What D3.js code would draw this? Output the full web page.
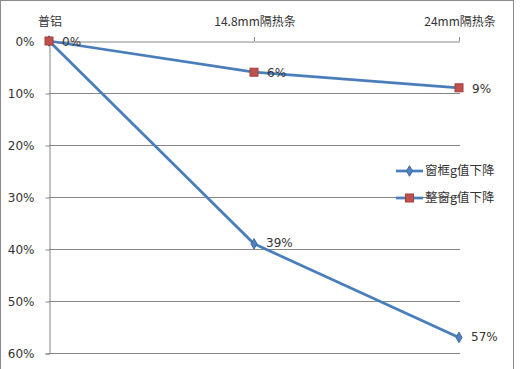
<!DOCTYPE html>
<html>
<head>
<meta charset="utf-8">
<script src="https://cdn.jsdelivr.net/npm/d3@7"></script>
<style>
  body { margin: 0; background: #fff; }
  text { font-family: "Noto Sans CJK SC", "DejaVu Sans", sans-serif; font-size: 11.5px; fill: #333; }
</style>
</head>
<body>
<script>
// categories along the top axis
const categories = ['普铝', '14.8mm隔热条', '24mm隔热条'];
// percentage drop of g value
const frameDrop = [0, 39, 57];   // 窗框g值下降
const windowDrop = [0, 6, 9];    // 整窗g值下降
const yTicks = [0, 10, 20, 30, 40, 50, 60];

const width = 520, height = 369;
const svg = d3.select('body').append('svg')
  .attr('width', width)
  .attr('height', height);

// outer frame
svg.append('rect')
  .attr('x', 0.5).attr('y', 0.5)
  .attr('width', 513).attr('height', 372)
  .attr('fill', 'none')
  .attr('stroke', '#8c8c8c');

const x = d3.scalePoint().domain(categories).range([49, 459]);
const y = d3.scaleLinear().domain([0, 60]).range([41, 353]);

// gridlines
svg.append('g')
  .selectAll('line')
  .data(yTicks.slice(1))
  .enter().append('line')
  .attr('x1', 49).attr('x2', 460)
  .attr('y1', d => y(d) + 0.5).attr('y2', d => y(d) + 0.5)
  .attr('stroke', '#868686');

// y axis
const yAxis = svg.append('g')
  .attr('transform', 'translate(49.5,0.5)')
  .call(d3.axisLeft(y).tickValues(yTicks).tickSize(4).tickFormat(d => d + '%'));
yAxis.select('.domain').attr('stroke', '#868686');
yAxis.selectAll('.tick line').attr('stroke', '#868686');
yAxis.selectAll('.tick text')
  .attr('x', -15)
  .style('font-family', '"DejaVu Sans", sans-serif')
  .style('font-size', '12px')
  .attr('fill', '#333');

// x axis on top
const xAxis = svg.append('g')
  .attr('transform', 'translate(0.5,41.5)')
  .call(d3.axisTop(x).tickSize(0).tickPadding(16));
xAxis.select('.domain').attr('stroke', '#868686');
xAxis.selectAll('.tick text')
  .style('font-family', '"Noto Sans CJK SC", sans-serif')
  .style('font-size', '12px')
  .attr('fill', '#333');
// small ticks at categories
svg.append('g').selectAll('line')
  .data(categories)
  .enter().append('line')
  .attr('x1', d => x(d) + 0.5).attr('x2', d => x(d) + 0.5)
  .attr('y1', 37).attr('y2', 41)
  .attr('stroke', '#868686');

const line = d3.line()
  .x((d, i) => x(categories[i]))
  .y(d => y(d));

// 窗框 series
svg.append('path')
  .datum(frameDrop)
  .attr('d', line)
  .attr('fill', 'none')
  .attr('stroke', '#4a7ebb')
  .attr('stroke-width', 2.75);

// 整窗 series
svg.append('path')
  .datum(windowDrop)
  .attr('d', line)
  .attr('fill', 'none')
  .attr('stroke', '#4a7ebb')
  .attr('stroke-width', 2.75);

const diamond = d3.symbol().type(d3.symbolDiamond).size(32);

svg.append('g').selectAll('path')
  .data(frameDrop)
  .enter().append('path')
  .attr('d', diamond)
  .attr('transform', (d, i) => `translate(${x(categories[i])},${y(d)})`)
  .attr('fill', '#4f81bd')
  .attr('stroke', '#3d6aa0');

svg.append('g').selectAll('rect')
  .data(windowDrop)
  .enter().append('rect')
  .attr('x', (d, i) => x(categories[i]) - 4)
  .attr('y', d => y(d) - 4)
  .attr('width', 8).attr('height', 8)
  .attr('fill', '#c0504d')
  .attr('stroke', '#a13f3c');

// data labels
const labelFont = '"DejaVu Sans", sans-serif';
svg.append('g').selectAll('text')
  .data(frameDrop.slice(1))
  .enter().append('text')
  .attr('x', (d, i) => x(categories[i + 1]) + 12)
  .attr('y', d => y(d) - 1)
  .attr('dy', '0.35em')
  .style('font-family', labelFont)
  .style('font-size', '12px')
  .text(d => d + '%');

svg.append('g').selectAll('text')
  .data(windowDrop)
  .enter().append('text')
  .attr('x', (d, i) => x(categories[i]) + 13)
  .attr('y', d => y(d) + 1)
  .attr('dy', '0.35em')
  .style('font-family', labelFont)
  .style('font-size', '12px')
  .text(d => d + '%');

// legend
const legend = svg.append('g').attr('transform', 'translate(396,171)');
const items = [
  { name: '窗框g值下降', shape: 'diamond' },
  { name: '整窗g值下降', shape: 'square' }
];
items.forEach((it, i) => {
  const g = legend.append('g').attr('transform', `translate(0,${i * 27})`);
  g.append('line')
    .attr('x1', 0).attr('x2', 27)
    .attr('stroke', '#4a7ebb').attr('stroke-width', 2.75);
  if (it.shape === 'diamond') {
    g.append('path').attr('d', diamond)
      .attr('transform', 'translate(13.5,0)')
      .attr('fill', '#4f81bd').attr('stroke', '#3d6aa0');
  } else {
    g.append('rect').attr('x', 9.5).attr('y', -4)
      .attr('width', 8).attr('height', 8)
      .attr('fill', '#c0504d').attr('stroke', '#a13f3c');
  }
  g.append('text')
    .attr('x', 29).attr('dy', '0.35em')
    .style('font-size', '12.5px')
    .text(it.name);
});
</script>
</body>
</html>
